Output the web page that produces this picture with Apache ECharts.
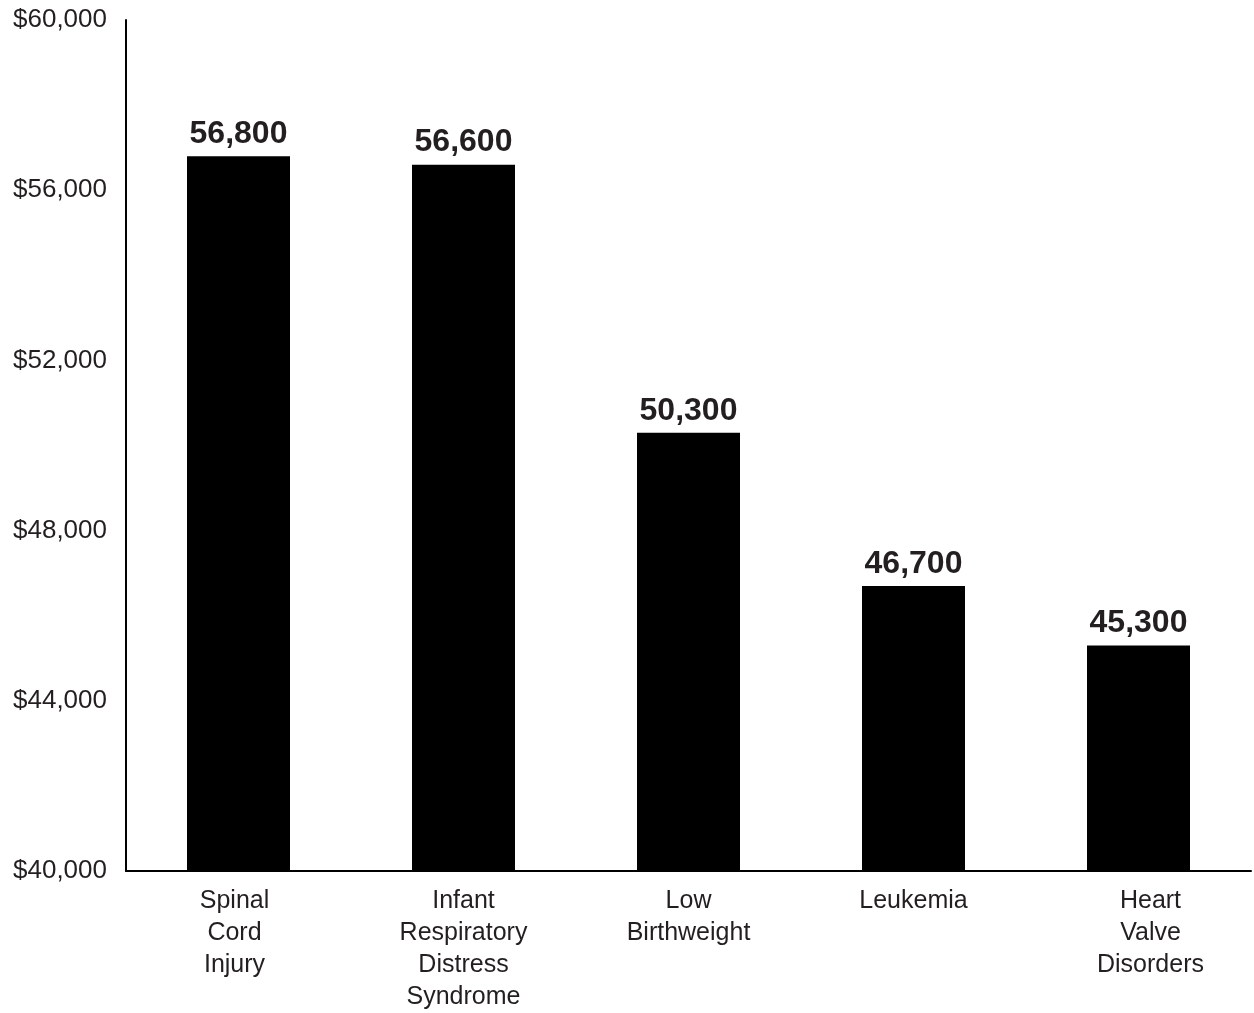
<!DOCTYPE html>
<html><head><meta charset="utf-8">
<script src="https://cdn.jsdelivr.net/npm/echarts@6/dist/echarts.min.js"></script>
<style>html,body{margin:0;padding:0;background:#fff}#c{width:1254px;height:1013px}</style>
</head><body><div id="c"></div>
<script>
const categories = ["Spinal\nCord\nInjury", "Infant\nRespiratory\nDistress\nSyndrome", "Low\nBirthweight", "Leukemia", "Heart\nValve\nDisorders"];
const values = [56800, 56600, 50300, 46700, 45300];
const yTicks = [40000, 44000, 48000, 52000, 56000, 60000];

const labelPad = [[0, 8, 0, 0], [0, 0, 0, 0], [0, 0, 0, 0], [0, 0, 0, 0], [0, 0, 0, 24]];
const chart = echarts.init(document.getElementById('c'));
const font = 'Liberation Sans, Arial, Helvetica, sans-serif';
chart.setOption({
  animation: false,
  grid: {left: 126, right: 3, top: 20, bottom: 139, containLabel: false},
  xAxis: {
    type: 'category',
    data: categories.map((c, i) => ({value: c, textStyle: {padding: labelPad[i]}})),
    axisLine: {lineStyle: {color: '#000', width: 2}},
    axisTick: {show: false},
    axisLabel: {color: '#231f20', fontSize: 25, fontFamily: font, lineHeight: 32, margin: 14, interval: 0, align: 'center'}
  },
  yAxis: {
    type: 'value', min: yTicks[0], max: yTicks[yTicks.length-1], interval: 4000,
    axisLine: {show: true, lineStyle: {color: '#000', width: 2}},
    axisTick: {show: false},
    splitLine: {show: false},
    axisLabel: {color: '#231f20', fontSize: 26, fontFamily: font, margin: 19,
      formatter: v => '$' + v.toLocaleString('en-US')}
  },
  series: [{
    type: 'bar', data: values, barWidth: 103,
    itemStyle: {color: '#000'},
    label: {show: true, position: 'top', distance: 6, color: '#231f20', fontSize: 32, fontWeight: 'bold', fontFamily: font,
      formatter: p => p.value.toLocaleString('en-US')}
  }]
});
</script></body></html>
